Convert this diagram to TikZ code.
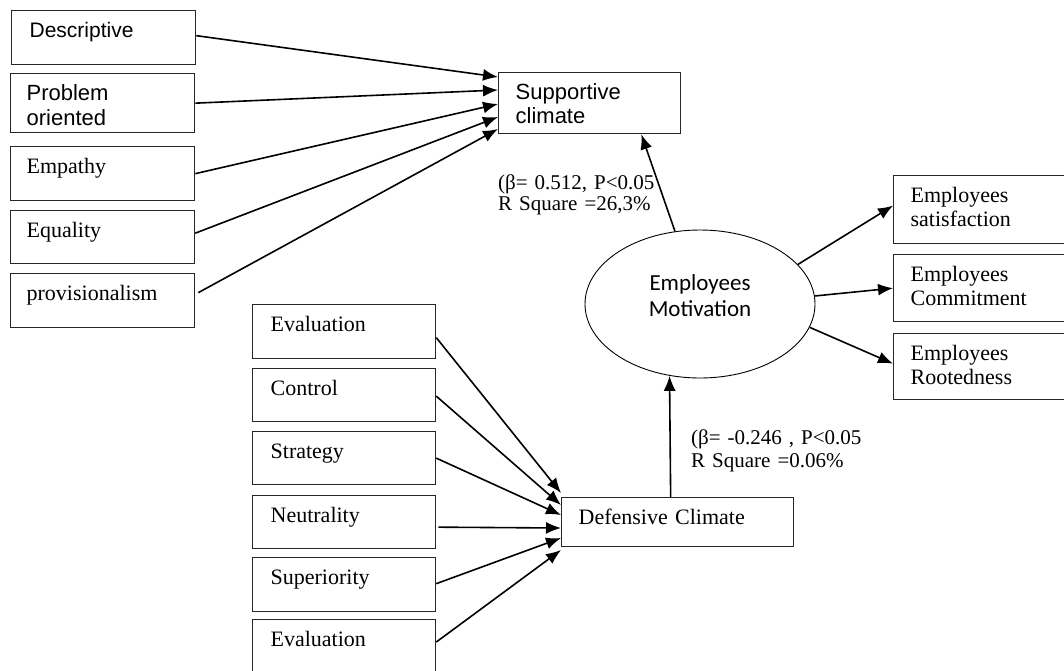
\documentclass[tikz,border=0pt]{standalone}
\usepackage{fontspec}
\setmainfont{Liberation Serif}
\setsansfont{Liberation Sans}
\newfontfamily\calib{Carlito}
\usetikzlibrary{arrows.meta, shapes.geometric}
\tikzset{cbox/.style={draw, draw=black!85, line width=1.3pt, anchor=north west, inner xsep=17pt, inner ysep=0pt, align=left, text height=27pt, font=\rmfamily\fontsize{22}{24}\selectfont},
    sbox/.style={cbox, font=\sffamily\fontsize{22}{25}\selectfont},
    link/.style={-{Latex[length=15pt,width=12pt]}, line width=1.6pt},
    stat/.style={anchor=base west, inner sep=0pt, align=left, text width=220pt}}

\begin{document}
\begin{tikzpicture}[x=1pt, y=-1pt]
            \useasboundingbox (0,0) rectangle (1064,670);
            % supportive side
            \node[sbox, text width=148pt, inner xsep=18pt, text depth=27pt, font=\sffamily\fontsize{21}{24}\selectfont] (desc) at (11,10) {Descriptive};
            \node[sbox, text width=152pt, inner xsep=16pt, text depth=32pt] (prob) at (10,73) {Problem\\oriented};
            \node[cbox, text width=152pt, inner xsep=16pt, text depth=27pt] (emp) at (10,146) {Empathy};
            \node[cbox, text width=152pt, inner xsep=16pt, text depth=26pt] (equ) at (10,210) {Equality};
            \node[cbox, text width=152pt, inner xsep=16pt, text depth=27pt] (prov) at (10,273) {provisionalism};
            \node[sbox, text width=148pt, text depth=34pt, font=\sffamily\fontsize{22}{24}\selectfont] (sup) at (498,72) {Supportive\\climate};
            % defensive side
            \node[cbox, text width=147pt, inner xsep=18pt, text depth=27pt] (evala) at (252,304) {Evaluation};
            \node[cbox, text width=147pt, inner xsep=18pt, text depth=26pt] (ctrl) at (252,368) {Control};
            \node[cbox, text width=147pt, inner xsep=18pt, text depth=26pt] (strat) at (252,431) {Strategy};
            \node[cbox, text width=147pt, inner xsep=18pt, text depth=26pt] (neut) at (252,495) {Neutrality};
            \node[cbox, text width=147pt, inner xsep=18pt, text depth=27pt] (supe) at (252,557) {Superiority};
            \node[cbox, text width=147pt, inner xsep=18pt, text depth=33pt] (evalb) at (252,619) {Evaluation};
            \node[cbox, text width=198pt, text depth=22pt] (def) at (561,497) {Defensive Climate};
            % motivation and outcomes
            \node[ellipse, draw, line width=0.9pt, minimum width=230pt, minimum height=148pt, inner sep=0pt, align=center, text width=130pt, text height=16pt, text depth=44pt, font=\calib\fontsize{23}{26}\selectfont] (mot) at (700,304) {Employees\\Motivation};
            \node[cbox, text width=139pt, text depth=41pt] (sat) at (893,175) {Employees\\satisfaction};
            \node[cbox, text width=139pt, text depth=40pt] (com) at (893,254) {Employees\\Commitment};
            \node[cbox, text width=139pt, text depth=39pt] (root) at (893,333) {Employees\\Rootedness};
            % statistics
            \node[stat, font=\rmfamily\fontsize{21}{21}\selectfont] (lblsup) at (498,189) {(β= 0.512, P<0.05\\R Square =26,3\%};
            \node[stat, font=\rmfamily\fontsize{21}{23}\selectfont] (lbldef) at (691,444) {(β= -0.246 , P<0.05\\R Square =0.06\%};
            % arrows
            \draw[link]([yshift=2pt]desc.east)--([yshift=-5pt]sup.north west);
            \draw[link](prob.east)--([yshift=-18pt]sup.north west);
            \draw[link](emp.east)--([yshift=-32pt]sup.north west);
            \draw[link]([yshift=4pt]equ.east)--([yshift=-45pt]sup.north west);
            \draw[link]([xshift=3pt,yshift=8pt]prov.east)--([yshift=-57pt]sup.north west);
            \draw[link]([yshift=-6pt]evala.east)--([yshift=4pt]def.north west);
            \draw[link]([yshift=-1pt]ctrl.east)--([yshift=-8pt]def.north west);
            \draw[link](strat.east)--([yshift=-18pt]def.north west);
            \draw[link]([xshift=2pt,yshift=-5pt]neut.east)--([yshift=-31pt]def.north west);
            \draw[link]([yshift=1pt]supe.east)--([yshift=-41pt]def.north west);
            \draw[link]([yshift=-23pt]evalb.north east)--([yshift=-53pt]def.north west);
            \draw[link](mot.109)--([xshift=-40pt]sup.south east);
            \draw[link]([xshift=-7pt]def.north)--(mot.-113);
            \draw[link](mot.22)--([yshift=4pt]sat.west);
            \draw[link](mot.4)--(com.west);
            \draw[link](mot.-12)--([yshift=3pt]root.west);
        \end{tikzpicture}
\end{document}
